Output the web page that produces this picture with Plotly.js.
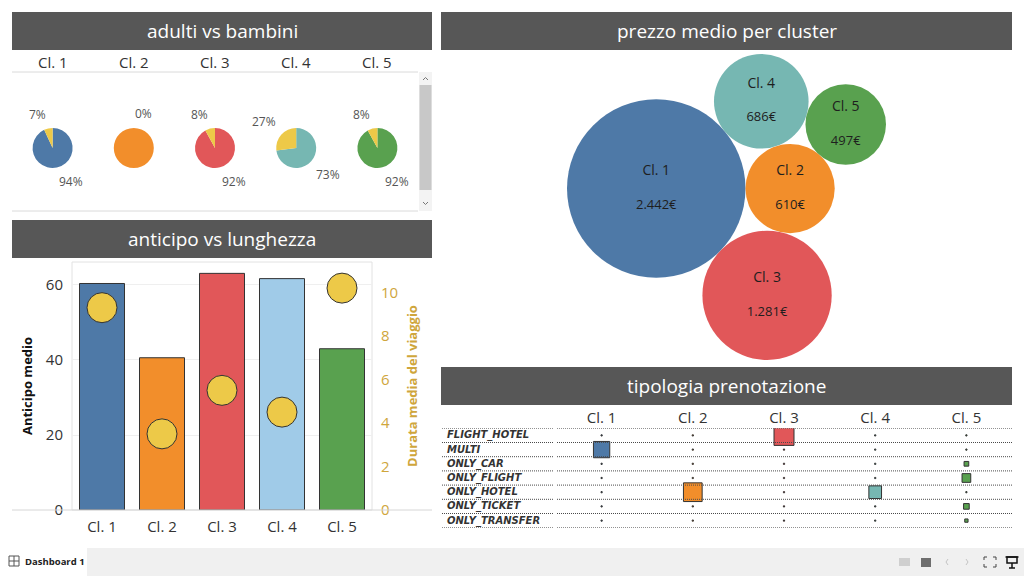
<!DOCTYPE html>
<html>
<head>
<meta charset="utf-8">
<script src="https://cdn.plot.ly/plotly-3.0.1.min.js"></script>
<style>
  html, body { margin: 0; padding: 0; background: #ffffff; }
  #dash { width: 1024px; height: 576px; }
</style>
</head>
<body>
<div id="dash"></div>
<script>
// ---- data ----
const clusters = ['Cl. 1', 'Cl. 2', 'Cl. 3', 'Cl. 4', 'Cl. 5'];

// adulti vs bambini (% per cluster)
const adultiPct = [94, 100, 92, 73, 92];
const bambiniPct = [7, 0, 8, 27, 8];

// anticipo vs lunghezza
const anticipoMedio = [60.4, 40.6, 63.1, 61.7, 43.0];
const durataMedia = [9.3, 3.5, 5.5, 4.5, 10.2];

// prezzo medio per cluster (€)
const prezzoMedio = [2442, 610, 1281, 686, 497];

// tipologia prenotazione
const tipologie = ['FLIGHT_HOTEL', 'MULTI', 'ONLY_CAR', 'ONLY_FLIGHT', 'ONLY_HOTEL', 'ONLY_TICKET', 'ONLY_TRANSFER'];
const prenotazioniCl1 = [1, 266, 1, 1, 1, 1, 1];
const prenotazioniCl2 = [1, 1, 1, 1, 350, 1, 1];
const prenotazioniCl3 = [400, 1, 1, 1, 1, 1, 1];
const prenotazioniCl4 = [1, 1, 1, 1, 161, 1, 1];
const prenotazioniCl5 = [1, 1, 22, 76, 1, 32, 11];
const prenotazioni = [prenotazioniCl1, prenotazioniCl2, prenotazioniCl3, prenotazioniCl4, prenotazioniCl5];

// ---- styles ----
const clusterColors = ['#4e79a7', '#f28e2b', '#e15759', '#76b7b2', '#59a14f'];
const barColors = ['#4e79a7', '#f28e2b', '#e15759', '#a0cbe8', '#59a14f'];
const childColor = '#edc948';
const gold = '#cfa63c';
const FONT = '"Open Sans", "Noto Sans", sans-serif';

const W = 1024, H = 576;
const px = v => v / W;
const py = v => 1 - v / H;

const traces = [];
const shapes = [];
const annotations = [];

// ---- section headers ----
function header(x0, y0, x1, y1, text) {
  shapes.push({ type: 'rect', xref: 'paper', yref: 'paper', x0: px(x0), x1: px(x1), y0: py(y1), y1: py(y0),
    fillcolor: '#575757', line: { width: 0 }, layer: 'below' });
  annotations.push({ xref: 'paper', yref: 'paper', x: px((x0 + x1) / 2), y: py((y0 + y1) / 2), text: text,
    showarrow: false, xanchor: 'center', yanchor: 'middle', font: { family: FONT, size: 19, color: '#ffffff' } });
}
header(12, 12, 432, 50, 'adulti vs bambini');
header(12, 220, 432, 258, 'anticipo vs lunghezza');
header(441, 12, 1012, 50, 'prezzo medio per cluster');
header(441, 367, 1012, 405, 'tipologia prenotazione');

function hline(x0, x1, y, color) {
  shapes.push({ type: 'line', xref: 'paper', yref: 'paper', x0: px(x0), x1: px(x1), y0: py(y), y1: py(y),
    line: { color: color, width: 1 } });
}

// ---- adulti vs bambini: one pie per cluster ----
const pieLeft = 12, pieRight = 418, pieCy = 148, pieR = 20, labelR = 25;
const colW = (pieRight - pieLeft) / clusters.length;
hline(12, 418, 72, '#dadada');
hline(12, 418, 211, '#dadada');

clusters.forEach((name, i) => {
  const cx = pieLeft + colW * (i + 0.5);
  annotations.push({ xref: 'paper', yref: 'paper', x: px(cx), y: py(62), text: name, showarrow: false,
    xanchor: 'center', yanchor: 'middle', font: { family: FONT, size: 15, color: '#333333' } });

  const vals = [adultiPct[i], bambiniPct[i]];
  traces.push({
    type: 'pie', values: vals, sort: false, direction: 'clockwise', rotation: 0,
    marker: { colors: [clusterColors[i], childColor], line: { width: 0 } },
    textinfo: 'none', hoverinfo: 'skip', showlegend: false,
    domain: { x: [px(cx - pieR), px(cx + pieR)], y: [py(pieCy + pieR), py(pieCy - pieR)] }
  });

  // percentage labels sit just outside each slice, at its mid angle
  const total = vals[0] + vals[1];
  let start = 0;
  vals.forEach(v => {
    const mid = (start + v / 2) / total * 2 * Math.PI;
    start += v;
    if (v >= 100) return;
    const s = Math.sin(mid), c = Math.cos(mid);
    annotations.push({
      xref: 'paper', yref: 'paper', x: px(cx + labelR * s), y: py(pieCy - labelR * c),
      text: v + '%', showarrow: false, borderpad: 0,
      xanchor: s < -1e-9 ? 'right' : 'left', yanchor: c > 0 ? 'bottom' : 'top',
      font: { family: FONT, size: 12, color: '#555555' }
    });
  });
});

// scrollbar of the pie panel
shapes.push({ type: 'rect', xref: 'paper', yref: 'paper', x0: px(419), x1: px(432), y0: py(211), y1: py(72),
  fillcolor: '#f3f3f3', line: { width: 0 } });
shapes.push({ type: 'rect', xref: 'paper', yref: 'paper', x0: px(419.5), x1: px(431.5), y0: py(190), y1: py(85),
  fillcolor: '#c8c8c8', line: { width: 0 } });
shapes.push({ type: 'path', xref: 'paper', yref: 'paper',
  path: `M ${px(423)} ${py(80)} L ${px(425.5)} ${py(77.5)} L ${px(428)} ${py(80)}`, line: { color: '#777', width: 1 } });
shapes.push({ type: 'path', xref: 'paper', yref: 'paper',
  path: `M ${px(423)} ${py(202)} L ${px(425.5)} ${py(204.5)} L ${px(428)} ${py(202)}`, line: { color: '#777', width: 1 } });

// ---- anticipo vs lunghezza ----
traces.push({
  type: 'bar', x: clusters, y: anticipoMedio, xaxis: 'x', yaxis: 'y', width: 0.75,
  marker: { color: barColors, line: { color: '#333333', width: 1 } }, hoverinfo: 'skip', showlegend: false
});
traces.push({
  type: 'scatter', mode: 'markers', x: clusters, y: durataMedia, xaxis: 'x', yaxis: 'y2',
  marker: { size: 30, color: childColor, opacity: 1, line: { color: '#333333', width: 1 } }, hoverinfo: 'skip', showlegend: false,
  cliponaxis: false
});
shapes.push({ type: 'rect', xref: 'paper', yref: 'paper', x0: px(72), x1: px(372), y0: py(510), y1: py(262),
  line: { color: '#e2e2e2', width: 1 }, fillcolor: 'rgba(0,0,0,0)', layer: 'below' });
hline(12, 432, 510, '#d6d6d6');

// ---- prezzo medio per cluster: packed bubbles ----
// Greedy front packing: each circle is set tangent to two placed circles,
// at the free spot closest to the contact point of the first two.
function packCircles(radii) {
  const placed = [];
  let seed = { x: 0, y: 0 };
  radii.forEach((r, i) => {
    if (i === 0) { placed.push({ x: 0, y: 0, r }); return; }
    if (i === 1) {
      placed.push({ x: placed[0].r + r, y: 0, r });
      seed = { x: placed[0].r, y: 0 };
      return;
    }
    let best = null;
    for (let a = 0; a < placed.length; a++) {
      for (let b = a + 1; b < placed.length; b++) {
        const A = placed[a], B = placed[b];
        const da = A.r + r, db = B.r + r;
        const dx = B.x - A.x, dy = B.y - A.y;
        const d = Math.hypot(dx, dy);
        if (d > da + db || d < Math.abs(da - db)) continue;
        const along = (da * da - db * db + d * d) / (2 * d);
        const h = Math.sqrt(Math.max(0, da * da - along * along));
        const ux = dx / d, uy = dy / d;
        for (const sgn of [1, -1]) {
          const c = { x: A.x + along * ux - sgn * h * uy, y: A.y + along * uy + sgn * h * ux, r };
          const free = placed.every(p => Math.hypot(p.x - c.x, p.y - c.y) >= p.r + r - 1e-6);
          if (!free) continue;
          const dist = Math.hypot(c.x - seed.x, c.y - seed.y);
          if (!best || dist < best.dist - 1e-9) best = { ...c, dist };
        }
      }
    }
    placed.push({ x: best.x, y: best.y, r });
  });
  return placed;
}

const bubbleBox = { x0: 441, x1: 1012, y0: 52, y1: 362 };
const bW = bubbleBox.x1 - bubbleBox.x0, bH = bubbleBox.y1 - bubbleBox.y0;
const packed = packCircles(prezzoMedio.map(v => Math.sqrt(v)));
const minX = Math.min(...packed.map(c => c.x - c.r)), maxX = Math.max(...packed.map(c => c.x + c.r));
const minY = Math.min(...packed.map(c => c.y - c.r)), maxY = Math.max(...packed.map(c => c.y + c.r));
const k = Math.min((bW - 4) / (maxX - minX), (bH - 4) / (maxY - minY));   // px per sqrt(€)
const bubX = packed.map(c => bW / 2 + k * (c.x - (minX + maxX) / 2));
const bubY = packed.map(c => bH / 2 + k * (c.y - (minY + maxY) / 2));
const euro = v => String(v).replace(/\B(?=(\d{3})+(?!\d))/g, '.') + '€';

// area sizing: rendered diameter = sqrt(2 * value / sizeref) = 2 * k * sqrt(value)
traces.push({
  type: 'scatter', mode: 'markers+text', x: bubX, y: bubY, xaxis: 'x2', yaxis: 'y3',
  marker: { size: prezzoMedio, sizemode: 'area', sizeref: 1 / (2 * k * k), color: clusterColors, line: { width: 0 }, opacity: 1 },
  text: clusters.map((c, i) => `<span style="font-size:14px">${c}</span><br><br>${euro(prezzoMedio[i])}`),
  textposition: 'middle center', textfont: { family: FONT, size: 13, color: '#1e1e1e' },
  hoverinfo: 'skip', showlegend: false, cliponaxis: false
});

// ---- tipologia prenotazione: square-mark matrix ----
clusters.forEach((name, i) => {
  traces.push({
    type: 'scatter', mode: 'markers', x: tipologie.map(() => name), y: tipologie, xaxis: 'x3', yaxis: 'y4',
    marker: { symbol: 'square', size: prenotazioni[i], sizemode: 'area', sizeref: 2, sizemin: 0.6, opacity: 1,
      color: clusterColors[i], line: { color: '#333333', width: 1 } },
    hoverinfo: 'skip', showlegend: false, cliponaxis: true
  });
});
for (let r = 0; r <= tipologie.length; r++) {
  [[442, 554], [557, 1012]].forEach(([a, b]) => {
    shapes.push({ type: 'line', xref: 'paper', yref: 'y4', x0: px(a), x1: px(b), y0: r - 0.5, y1: r - 0.5,
      line: { color: '#4a4a4a', width: 1, dash: '1px,1px' } });
  });
}
tipologie.forEach((t, r) => {
  annotations.push({ xref: 'paper', yref: 'y4', x: px(446), y: r, text: `<b><i>${t}</i></b>`, showarrow: false,
    xanchor: 'left', yanchor: 'middle', borderpad: 0,
    font: { family: '"DejaVu Sans", sans-serif', size: 10, color: '#333333' } });
});

// ---- footer bar ----
shapes.push({ type: 'rect', xref: 'paper', yref: 'paper', x0: px(87), x1: px(1024), y0: py(576), y1: py(548),
  fillcolor: '#f0f0f0', line: { width: 0 }, layer: 'below' });
shapes.push({ type: 'rect', xref: 'paper', yref: 'paper', x0: px(9), x1: px(19), y0: py(566), y1: py(556),
  line: { color: '#555', width: 1 } });
shapes.push({ type: 'line', xref: 'paper', yref: 'paper', x0: px(14), x1: px(14), y0: py(566), y1: py(556), line: { color: '#555', width: 1 } });
shapes.push({ type: 'line', xref: 'paper', yref: 'paper', x0: px(9), x1: px(19), y0: py(561), y1: py(561), line: { color: '#555', width: 1 } });
annotations.push({ xref: 'paper', yref: 'paper', x: px(23), y: py(561), text: '<b>Dashboard 1</b>', showarrow: false,
  xanchor: 'left', yanchor: 'middle', font: { family: FONT, size: 9.5, color: '#222' } });
shapes.push({ type: 'rect', xref: 'paper', yref: 'paper', x0: px(899), x1: px(910), y0: py(566), y1: py(558),
  fillcolor: '#cfcfcf', line: { width: 0 } });
shapes.push({ type: 'rect', xref: 'paper', yref: 'paper', x0: px(921), x1: px(931), y0: py(567), y1: py(558),
  fillcolor: '#6e6e6e', line: { width: 0 } });
shapes.push({ type: 'path', xref: 'paper', yref: 'paper',
  path: `M ${px(948)} ${py(559)} L ${px(946)} ${py(562)} L ${px(948)} ${py(565)}`, line: { color: '#c4c4c4', width: 1 } });
shapes.push({ type: 'path', xref: 'paper', yref: 'paper',
  path: `M ${px(966)} ${py(559)} L ${px(968)} ${py(562)} L ${px(966)} ${py(565)}`, line: { color: '#c4c4c4', width: 1 } });
shapes.push({ type: 'path', xref: 'paper', yref: 'paper',
  path: `M ${px(984)} ${py(560)} V ${py(557)} H ${px(987)} M ${px(993)} ${py(557)} H ${px(996)} V ${py(560)} ` +
        `M ${px(996)} ${py(564)} V ${py(567)} H ${px(993)} M ${px(987)} ${py(567)} H ${px(984)} V ${py(564)}`,
  line: { color: '#444', width: 1 } });
shapes.push({ type: 'rect', xref: 'paper', yref: 'paper', x0: px(1007), x1: px(1017), y0: py(563), y1: py(557),
  line: { color: '#111', width: 1.5 } });
shapes.push({ type: 'path', xref: 'paper', yref: 'paper',
  path: `M ${px(1005.5)} ${py(557)} H ${px(1018.5)} M ${px(1012)} ${py(563)} V ${py(568)} M ${px(1009)} ${py(568)} H ${px(1015)}`,
  line: { color: '#111', width: 1.5 } });

// ---- layout ----
const layout = {
  width: W, height: H, margin: { l: 0, r: 0, t: 0, b: 0 },
  paper_bgcolor: '#ffffff', plot_bgcolor: 'rgba(0,0,0,0)',
  font: { family: FONT, color: '#333333' },
  showlegend: false,
  xaxis: {
    domain: [px(72), px(372)], anchor: 'y', type: 'category', range: [-0.5, 4.5],
    showgrid: false, zeroline: false, showline: false, ticks: '', ticklabelstandoff: 6,
    tickfont: { family: FONT, size: 15, color: '#333333' }, fixedrange: true
  },
  yaxis: {
    domain: [py(510), py(262)], anchor: 'x', range: [0, 66.13], tickvals: [0, 20, 40, 60],
    showgrid: true, gridcolor: '#efefef', zeroline: false, showline: false, ticks: '', ticklabelstandoff: 8,
    tickfont: { family: FONT, size: 15, color: '#333333' },
    title: { text: 'Anticipo medio', standoff: 10, font: { family: FONT, size: 13, color: '#111111', weight: 700 } }
  },
  yaxis2: {
    overlaying: 'y', side: 'right', anchor: 'x', range: [0, 11.4], dtick: 2,
    showgrid: false, zeroline: false, showline: false, ticks: '', ticklabelstandoff: 8,
    tickfont: { family: FONT, size: 15, color: gold },
    title: { text: 'Durata media del viaggio', standoff: 10, font: { family: FONT, size: 13, color: gold, weight: 700 } }
  },
  xaxis2: { domain: [px(bubbleBox.x0), px(bubbleBox.x1)], anchor: 'y3', range: [0, bW], visible: false },
  yaxis3: { domain: [py(bubbleBox.y1), py(bubbleBox.y0)], anchor: 'x2', range: [bH, 0], visible: false },
  xaxis3: {
    domain: [px(556), px(1012)], anchor: 'y4', side: 'top', type: 'category', categoryorder: 'array', categoryarray: clusters,
    range: [-0.5, 4.5], showgrid: false, zeroline: false, showline: false, ticks: '', ticklabelstandoff: 1,
    tickfont: { family: FONT, size: 15, color: '#333333' }
  },
  yaxis4: {
    domain: [py(527.7), py(428.3)], anchor: 'x3', type: 'category', categoryorder: 'array', categoryarray: tipologie,
    range: [6.5, -0.5], showgrid: false, zeroline: false, showline: false, showticklabels: false, ticks: ''
  },
  shapes: shapes,
  annotations: annotations
};

Plotly.newPlot('dash', traces, layout, { staticPlot: true, displayModeBar: false });
</script>
</body>
</html>
